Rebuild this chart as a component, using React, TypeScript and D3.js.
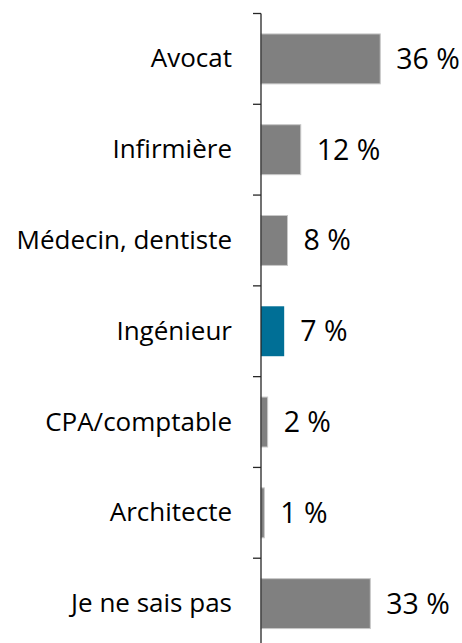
import React, { useEffect, useRef } from "react";
import * as d3 from "d3";

const categories = [
  "Avocat",
  "Infirmière",
  "Médecin, dentiste",
  "Ingénieur",
  "CPA/comptable",
  "Architecte",
  "Je ne sais pas",
];
const values = [36, 12, 8, 7, 2, 1, 33];
const highlighted = "Ingénieur";

const WIDTH = 462;
const HEIGHT = 643;

const App: React.FC = () => {
  const svgRef = useRef<SVGSVGElement | null>(null);

  useEffect(() => {
    if (!svgRef.current) return;
    const svg = d3.select(svgRef.current);
    svg.selectAll("*").remove();

    const axisX = 261;

    const y = d3
      .scaleBand<string>()
      .domain(categories)
      .range([13.5, 649])
      .paddingInner(0.45)
      .paddingOuter(0.225);

    const x = d3.scaleLinear().domain([0, 40]).range([axisX, axisX + 132.5]);

    const rows = categories.map((c, i) => ({ name: c, value: values[i] }));
    const step = y.step();

    // bars
    svg
      .selectAll(".bar")
      .data(rows)
      .enter()
      .append("rect")
      .attr("class", "bar")
      .attr("x", x(0))
      .attr("y", (d) => y(d.name) ?? 0)
      .attr("width", (d) => x(d.value) - x(0))
      .attr("height", y.bandwidth())
      .attr("fill", (d) => (d.name === highlighted ? "#006F96" : "#808080"))
      .attr("stroke", (d) => (d.name === highlighted ? "none" : "#C8C8C8"))
      .attr("stroke-width", 1);

    // axis line + ticks at band boundaries
    const top = y.range()[0];
    svg
      .append("line")
      .attr("x1", axisX)
      .attr("x2", axisX)
      .attr("y1", top)
      .attr("y2", HEIGHT)
      .attr("stroke", "#262626")
      .attr("stroke-width", 1.3);

    const tickYs = d3.range(categories.length).map((i) => top + i * step);
    svg
      .selectAll(".tick")
      .data(tickYs)
      .enter()
      .append("line")
      .attr("class", "tick")
      .attr("x1", axisX - 8)
      .attr("x2", axisX)
      .attr("y1", (d) => d)
      .attr("y2", (d) => d)
      .attr("stroke", "#262626")
      .attr("stroke-width", 1.3);

    // category labels
    svg
      .selectAll(".cat")
      .data(rows)
      .enter()
      .append("text")
      .attr("class", "cat")
      .attr("x", 232)
      .attr("y", (d) => (y(d.name) ?? 0) + y.bandwidth() / 2 + 8.5)
      .attr("text-anchor", "end")
      .style("font-family", "'Open Sans', sans-serif")
      .style("font-size", "26px")
      .style("fill", "#000")
      .text((d) => d.name);

    // value labels
    svg
      .selectAll(".val")
      .data(rows)
      .enter()
      .append("text")
      .attr("class", "val")
      .attr("x", (d) => x(d.value) + 16)
      .attr("y", (d) => (y(d.name) ?? 0) + y.bandwidth() / 2 + 10)
      .style("font-family", "'Open Sans', sans-serif")
      .style("font-size", "28.5px")
      .style("fill", "#000")
      .text((d) => `${d.value} %`);
  }, []);

  return (
    <div style={{ position: "absolute", left: 0, top: 0, background: "#fff" }}>
      <svg ref={svgRef} width={WIDTH} height={HEIGHT} style={{ display: "block" }} />
    </div>
  );
};

export default App;
